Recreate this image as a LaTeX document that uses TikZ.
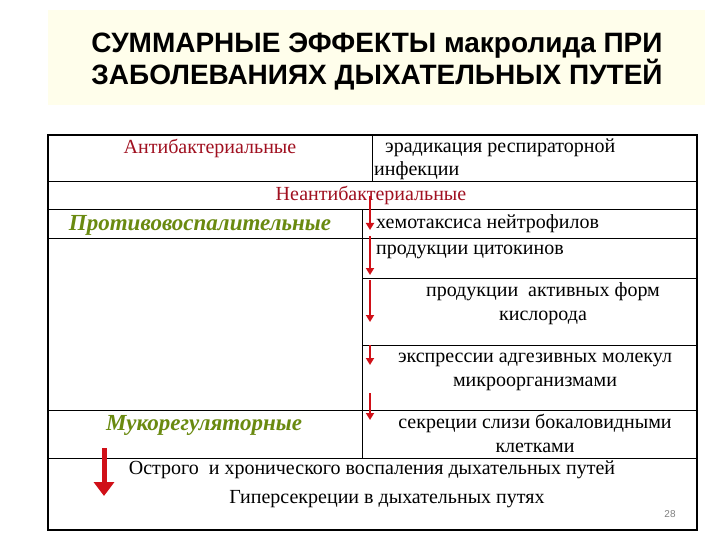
\documentclass[tikz,border=0pt]{standalone}
\usepackage{fontspec}
\setmainfont{Liberation Serif}
\newfontfamily\ttl{Liberation Sans}
\usetikzlibrary{arrows.meta}
\definecolor{dred}{HTML}{A01020}
\definecolor{grn}{HTML}{6A8A10}
\definecolor{arr}{HTML}{D01018}
\begin{document}
\begin{tikzpicture}[x=1pt,y=-1pt,
  cell/.style={font=\fontsize{20}{24}\selectfont,align=center,inner sep=0},
  lbl/.style={font=\fontsize{23}{26}\selectfont\bfseries\itshape,text=grn,inner sep=0},
  sarr/.style={draw=arr,line width=2pt,-{Triangle[length=7pt,width=8pt]}},
  tline/.style={line width=1pt}]
\useasboundingbox (0,0) rectangle (720,540);
\fill[white] (0,0) rectangle (720,540);
\fill[yellow!8!white] (48,10) rectangle (705,105);
\node[font=\ttl\fontsize{28}{32}\selectfont\bfseries,align=center] (title) at (377,62) {СУММАРНЫЕ ЭФФЕКТЫ макролида ПРИ\\ЗАБОЛЕВАНИЯХ ДЫХАТЕЛЬНЫХ ПУТЕЙ};
\draw[line width=1.5pt] (48,135) rectangle (697,530);
\draw[tline] (48,182) -- (697,182);
\draw[tline] (48,210) -- (697,210);
\draw[tline] (48,238) -- (697,238);
\draw[tline] (362,278) -- (697,278);
\draw[tline] (362,345) -- (697,345);
\draw[tline] (48,410) -- (697,410);
\draw[tline] (48,458) -- (697,458);
\draw[tline] (372,135) -- (372,182);
\draw[tline] (362,210) -- (362,458);
\node[cell,text=dred] (anti) at (210,148) {Антибактериальные};
\node[cell,anchor=west] (erad1) at (385,148) {эрадикация респираторной};
\node[cell,anchor=west] (erad2) at (374,171) {инфекции};
\node[cell,text=dred] (neanti) at (371,195) {Неантибактериальные};
\node[lbl] (prot) at (200,225) {Противовоспалительные};
\node[cell,anchor=west] (chem) at (376,224) {хемотаксиса нейтрофилов};
\node[cell,anchor=west] (cyt) at (376,252) {продукции цитокинов};
\node[cell] (ros) at (543,304) {продукции\ \ активных форм\\кислорода};
\node[cell] (expr) at (535,372) {экспрессии адгезивных молекул\\микроорганизмами};
\node[lbl] (muc) at (204,425) {Мукорегуляторные};
\node[cell] (sekr) at (535,433) {секреции слизи бокаловидными\\клетками};
\node[cell] (ostr) at (372,470) {Острого\ \ и хронического воспаления дыхательных путей};
\node[cell] (giper) at (387,499) {Гиперсекреции в дыхательных путях};
\node[font=\ttl\fontsize{10}{12}\selectfont,text=gray] (num) at (670,514) {28};
\coordinate (a1) at (370,196); \coordinate (b1) at (370,230);
\coordinate (a2) at (370,236); \coordinate (b2) at (370,275);
\coordinate (a3) at (370,280); \coordinate (b3) at (370,322);
\coordinate (a4) at (370,345); \coordinate (b4) at (370,365);
\coordinate (a5) at (370,393); \coordinate (b5) at (370,420);
\draw[sarr] (a1) -- (b1);
\draw[sarr] (a2) -- (b2);
\draw[sarr] (a3) -- (b3);
\draw[sarr] (a4) -- (b4);
\draw[sarr] (a5) -- (b5);
\coordinate (c1) at (104,448); \coordinate (c2) at (104,496);
\draw[draw=arr,line width=5pt,-{Triangle[length=14pt,width=20pt]}] (c1) -- (c2);
\end{tikzpicture}
\end{document}
